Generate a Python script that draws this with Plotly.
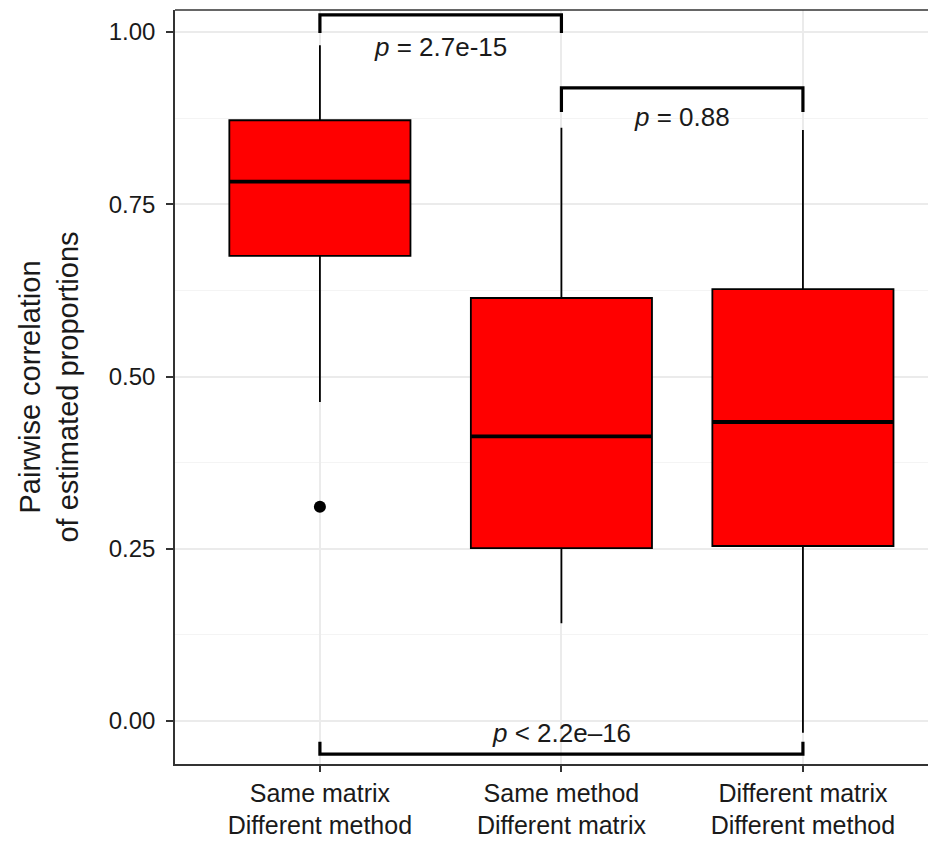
import plotly.graph_objects as go

categories = ["Same matrix<br>Different method",
              "Same method<br>Different matrix",
              "Different matrix<br>Different method"]
positions = [1, 2, 3]
q1 = [0.675, 0.251, 0.254]
median = [0.783, 0.413, 0.434]
q3 = [0.872, 0.614, 0.627]
lower_fence = [0.463, 0.142, -0.017]
upper_fence = [0.981, 0.861, 0.858]
outlier_x = [1]
outlier_y = [0.311]

# significance brackets: (left group, right group, bar level, tick end, label, label y)
brackets_x0 = [1, 2, 1]
brackets_x1 = [2, 3, 3]
brackets_level = [1.025, 0.919, -0.048]
brackets_tip = [0.9985, 0.884, -0.030]
bracket_labels = ["<i>p</i> = 2.7e-15", "<i>p</i> = 0.88", "<i>p</i> < 2.2e–16"]
bracket_label_y = [0.978, 0.877, -0.017]

box_width = 0.75
FONT = "Liberation Sans, Arial, Helvetica, sans-serif"
TXT = "#1a1a1a"

fig = go.Figure()
for i in range(3):
    fig.add_trace(go.Box(
        x=[positions[i]], q1=[q1[i]], median=[median[i]], q3=[q3[i]],
        lowerfence=[lower_fence[i]], upperfence=[upper_fence[i]],
        width=box_width, fillcolor="#FF0000",
        line=dict(color="black", width=1.8), whiskerwidth=0,
        boxpoints=False, showlegend=False, hoverinfo="skip",
    ))
    fig.add_trace(go.Scatter(
        x=[positions[i] - box_width / 2, positions[i] + box_width / 2],
        y=[median[i], median[i]], mode="lines",
        line=dict(color="black", width=3.8), showlegend=False, hoverinfo="skip",
    ))

fig.add_trace(go.Scatter(
    x=outlier_x, y=outlier_y, mode="markers",
    marker=dict(color="black", size=12), showlegend=False, hoverinfo="skip",
))

for x0, x1, lv, tp, lab, ly in zip(brackets_x0, brackets_x1, brackets_level,
                                   brackets_tip, bracket_labels, bracket_label_y):
    fig.add_trace(go.Scatter(
        x=[x0, x0, x1, x1], y=[tp, lv, lv, tp], mode="lines",
        line=dict(color="black", width=3.2), showlegend=False, hoverinfo="skip",
    ))
    fig.add_annotation(x=(x0 + x1) / 2, y=ly, text=lab, showarrow=False,
                       font=dict(family=FONT, size=26, color=TXT),
                       yanchor="middle")

fig.update_layout(
    width=928, height=833,
    margin=dict(l=167, r=0, t=2, b=77),
    paper_bgcolor="white", plot_bgcolor="white",
    font=dict(family=FONT, color=TXT),
    xaxis=dict(
        range=[0.4, 3.551], tickvals=positions, ticktext=categories,
        tickfont=dict(size=25, color=TXT), automargin=False,
        showgrid=True, gridcolor="#EBEBEB", gridwidth=1.5,
        showline=True, linecolor="#333333", linewidth=1.5,
        ticks="outside", ticklen=6, tickcolor="#333333", tickwidth=1.5,
        zeroline=False, mirror=False,
    ),
    yaxis=dict(
        range=[-0.0624, 1.032], tickvals=[0, 0.25, 0.5, 0.75, 1.0],
        ticktext=["0.00", "0.25", "0.50", "0.75", "1.00"],
        tickfont=dict(size=24, color=TXT), ticklabelstandoff=6,
        automargin=False,
        showgrid=True, gridcolor="#EBEBEB", gridwidth=1.5,
        minor=dict(tickvals=[0.125, 0.375, 0.625, 0.875], showgrid=True,
                   gridcolor="#F4F4F4", gridwidth=1),
        showline=True, linecolor="#333333", linewidth=1.5,
        ticks="outside", ticklen=7, tickcolor="#333333", tickwidth=1.5,
        zeroline=False,
        title=dict(text="Pairwise correlation<br>of estimated proportions",
                   font=dict(size=29, color=TXT), standoff=22),
    ),
)
# top border line
fig.add_shape(type="line", xref="paper", yref="paper", x0=0, x1=1, y0=1, y1=1,
              line=dict(color="#333333", width=1.5))

fig.write_html("out.html")
